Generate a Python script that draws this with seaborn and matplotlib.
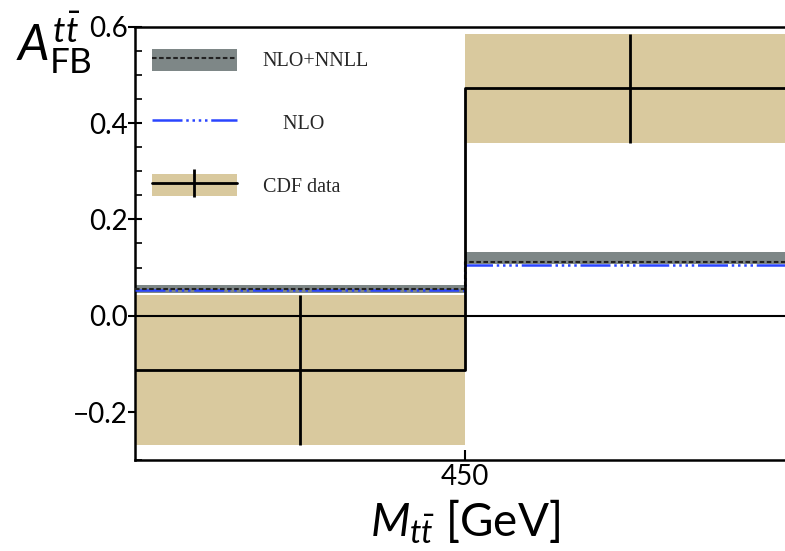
import numpy as np
import pandas as pd
import matplotlib
matplotlib.use('Agg')
import matplotlib.pyplot as plt
import seaborn as sns
from matplotlib.patches import Patch
from matplotlib.lines import Line2D
from matplotlib.ticker import MultipleLocator

# ---- data ----
bin_edges = [345, 450, 555]
cdf_central = [-0.113, 0.472]
cdf_error = [0.155, 0.113]
nnll_central = [0.055, 0.111]
nnll_low = [0.047, 0.107]
nnll_high = [0.064, 0.132]
nlo_values = [0.053, 0.106]
x_ticks = [450]
x_tick_labels = ["450"]
y_ticks = [-0.2, 0.0, 0.2, 0.4, 0.6]
y_tick_labels = ["\u22120.2", "0.0", "0.2", "0.4", "0.6"]
legend_labels = ["NLO+NNLL", "    NLO", "CDF data"]

# ---- style ----
sns.set_theme(style='ticks')
plt.rcParams['font.family'] = ['Lato', 'DejaVu Sans']
plt.rcParams['mathtext.fontset'] = 'custom'
plt.rcParams['mathtext.rm'] = 'Lato'
plt.rcParams['mathtext.it'] = 'Lato:italic'
plt.rcParams['mathtext.bf'] = 'Lato:bold'

tan = '#D9C99E'
gray = '#7E8787'
blue = '#2A45FF'
nlo_ls = (0, (12, 1.5, 1, 1.5, 1, 1.5, 1, 1.5, 1, 1.5))
nnll_ls = (0, (2.2, 1.2))

W, H = 785, 551
fig = plt.figure(figsize=(W / 100, H / 100), dpi=100)
ax = fig.add_axes([135 / W, (H - 460.2) / H, 660 / W, (460.2 - 26.7) / H])


def step_frame(values):
    vals = list(values) + [values[-1]]
    return pd.DataFrame({'x': bin_edges, 'y': vals})


cdf_lo = [c - e for c, e in zip(cdf_central, cdf_error)]
cdf_hi = [c + e for c, e in zip(cdf_central, cdf_error)]
centers = [(a + b) / 2 for a, b in zip(bin_edges[:-1], bin_edges[1:])]

# CDF band
ax.fill_between(bin_edges, step_frame(cdf_lo)['y'], step_frame(cdf_hi)['y'],
                step='post', color=tan, lw=0, zorder=1)
# NNLL band
ax.fill_between(bin_edges, step_frame(nnll_low)['y'], step_frame(nnll_high)['y'],
                step='post', color=gray, lw=0, zorder=2)
ax.axhline(0, color='black', lw=1.5, zorder=3)

# NLO
sns.lineplot(data=step_frame(nlo_values), x='x', y='y', drawstyle='steps-post',
             color=blue, lw=1.8, estimator=None, ax=ax, zorder=4, linestyle=nlo_ls)
# NLO+NNLL central
sns.lineplot(data=step_frame(nnll_central), x='x', y='y', drawstyle='steps-post',
             color='#222222', lw=1.5, estimator=None, ax=ax, zorder=5, linestyle=nnll_ls)

# CDF central step + error bars
sns.lineplot(data=step_frame(cdf_central), x='x', y='y', drawstyle='steps-post',
             color='black', lw=2, estimator=None, ax=ax, zorder=6)
ax.errorbar(centers, cdf_central, yerr=cdf_error, fmt='none', ecolor='black',
            elinewidth=2, capsize=0, zorder=6)

ax.set_xlim(bin_edges[0], bin_edges[-1])
ax.set_ylim(-0.3, 0.6)
ax.set_xticks(x_ticks)
ax.set_xticklabels(x_tick_labels)
ax.set_yticks(y_ticks)
ax.set_yticklabels(y_tick_labels)
ax.yaxis.set_minor_locator(MultipleLocator(0.05))
ax.tick_params(axis='y', which='major', direction='inout', length=10, width=1.5,
               labelsize=20, pad=0, colors='black')
ax.tick_params(axis='y', which='minor', direction='in', length=5, width=1.2, colors='black')
ax.tick_params(axis='x', which='major', direction='in', length=7, width=1.5,
               labelsize=20, pad=3, colors='black')
for s in ax.spines.values():
    s.set_color('black')
    s.set_linewidth(1.8)

ax.set_xlabel(r'$M_{t\bar{t}}$ [GeV]', fontsize=33, labelpad=5, color='black')
ax.set_ylabel(r'$A_{\mathrm{FB}}^{t\bar{t}}$', rotation=0, fontsize=36,
              ha='left', va='top', color='black')
ax.yaxis.set_label_coords(-119 / 660, 1 + (26.7 - 9) / 433.5)

# legend
handles = [
    (Patch(facecolor=gray, edgecolor='none'),
     Line2D([], [], color='#222222', lw=1.5, linestyle=nnll_ls)),
    Line2D([], [], color=blue, lw=1.8, linestyle=nlo_ls),
    (Patch(facecolor=tan, edgecolor='none'),
     Line2D([], [], color='black', lw=2, marker='|', markersize=20,
            markeredgewidth=2)),
]
leg = ax.legend(handles, legend_labels, loc='upper left',
                bbox_to_anchor=(17 / 660, 1 - 22 / 433.5), frameon=False,
                borderpad=0, borderaxespad=0, handlelength=4.2,
                handleheight=1.3, handletextpad=1.3, labelspacing=1.98,
                numpoints=1, prop={'family': 'Liberation Serif', 'size': 14.5})

fig.savefig('out.png', dpi=100)
